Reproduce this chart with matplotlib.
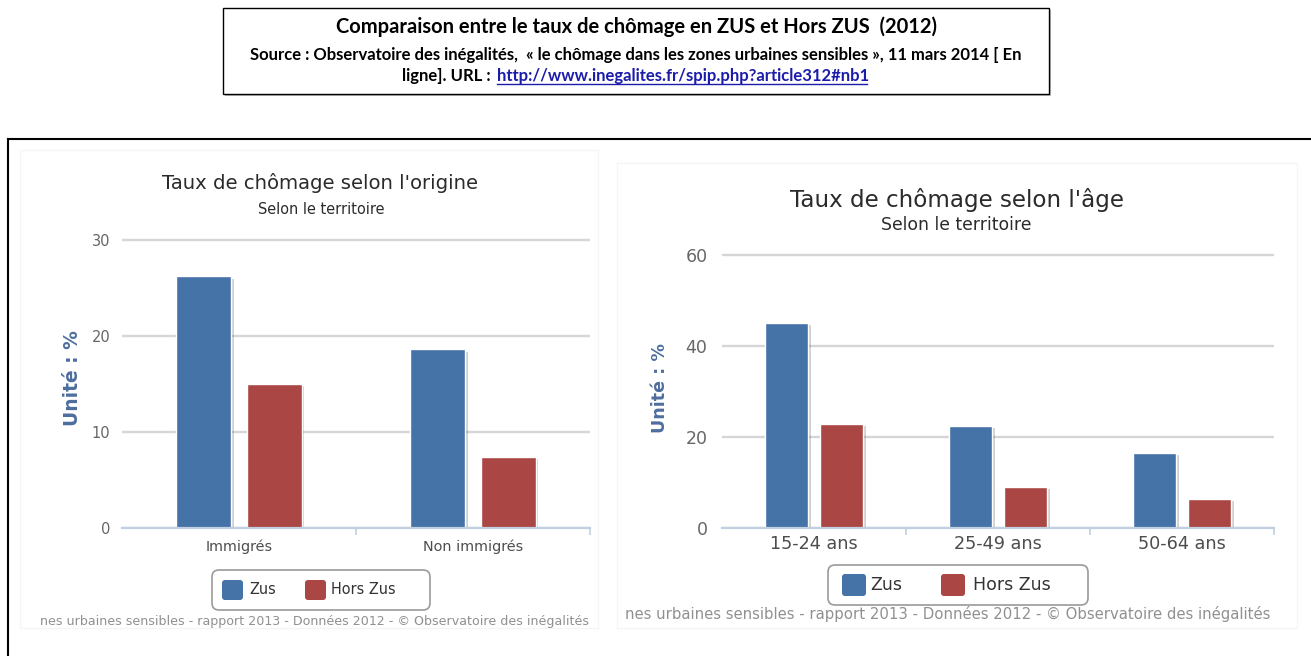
import matplotlib
matplotlib.use("Agg")
import matplotlib.pyplot as plt
import numpy as np
from matplotlib.patches import Rectangle, FancyBboxPatch
from matplotlib import patheffects as pe
from matplotlib.lines import Line2D

W, H = 1311, 656

# ---- data -------------------------------------------------------------
origin_categories = ["Immigrés", "Non immigrés"]
origin_zus = [26.2, 18.6]
origin_hors_zus = [15.0, 7.4]
origin_ticks = [0, 10, 20, 30]

age_categories = ["15-24 ans", "25-49 ans", "50-64 ans"]
age_zus = [45.1, 22.5, 16.5]
age_hors_zus = [22.8, 9.0, 6.3]
age_ticks = [0, 20, 40, 60]

series_names = ["Zus", "Hors Zus"]
series_colors = ["#4572A7", "#AA4643"]

main_title = "Comparaison entre le taux de chômage en ZUS et Hors ZUS  (2012)"
source_line = ("Source : Observatoire des inégalités,  « le chômage dans les zones "
               "urbaines sensibles », 11 mars 2014 [ En")
source_prefix = "ligne]. URL : "
source_url = "http://www.inegalites.fr/spip.php?article312#nb1"
credits = ("nes urbaines sensibles - rapport 2013 - Données 2012 - "
           "© Observatoire des inégalités")

# ---- figure and a pixel-space overlay for decorations ----------------
fig = plt.figure(figsize=(W / 100, H / 100), dpi=100)
fig.patch.set_facecolor("white")
deco = fig.add_axes([0, 0, 1, 1], zorder=0)
deco.set_xlim(0, W)
deco.set_ylim(H, 0)
deco.axis("off")
renderer = fig.canvas.get_renderer()


def fit_text(x, y, s, width, ha="center", rotation=0, size=10, **kw):
    """Place text and scale its font so it spans `width` pixels."""
    t = deco.text(x, y, s, ha=ha, va="center", rotation=rotation,
                  fontsize=size, **kw)
    for _ in range(3):
        bb = t.get_window_extent(renderer)
        cur = bb.height if rotation else bb.width
        t.set_fontsize(t.get_fontsize() * width / cur)
    return t


# ---- header box ------------------------------------------------------
deco.add_patch(Rectangle((225, 10), 826, 86, fill=True, fc="#bdbdbd",
                         ec="none"))
deco.add_patch(Rectangle((223, 8), 826, 86, fc="white", ec="black", lw=1.0))
head = dict(family=["Lato", "DejaVu Sans"], fontweight="bold", color="black")
fit_text(637, 27, main_title, 600, **head)
src = fit_text(636, 55, source_line, 776, **head)
src_size = src.get_fontsize()
deco.text(495, 76, source_prefix, ha="right", va="center", fontsize=src_size,
          **head)
deco.text(497, 76, source_url, ha="left", va="center", fontsize=src_size,
          family=["Lato", "DejaVu Sans"], fontweight="bold", color="#1c1caa")
deco.add_line(Line2D([497, 867], [84, 84], color="#1c1caa", lw=1.0))

# ---- outer frame -----------------------------------------------------
deco.add_line(Line2D([8, W], [139, 139], color="black", lw=1.5))
deco.add_line(Line2D([8, 8], [139, H], color="black", lw=1.5))

# faint panel outlines
deco.add_patch(Rectangle((20, 150), 578, 478, fill=False, ec="#f5f5f5", lw=1))
deco.add_patch(Rectangle((617, 163), 680, 465, fill=False, ec="#f5f5f5", lw=1))


def bar_chart(x0, x1, y_top, y_zero, cats, zus, hors, ticks,
              tick_fs, label_fs, ytick_pad, xtick_pad):
    """Grouped column chart whose top tick sits at y_top and zero at y_zero."""
    px_per_unit = (y_zero - y_top) / (ticks[-1] - ticks[0])
    extra = 3 / px_per_unit
    top_px = y_top - 3
    ax = fig.add_axes([x0 / W, 1 - y_zero / H, (x1 - x0) / W,
                       (y_zero - top_px) / H], zorder=1)
    ax.set_facecolor("none")
    n = len(cats)
    pos = np.arange(n)
    bw, off = 0.235, 0.15
    shadow = [pe.SimplePatchShadow(offset=(2, -1.5), shadow_rgbFace="black",
                                   alpha=0.18), pe.Normal()]
    for vals, d, c in ((zus, -off, series_colors[0]),
                       (hors, off, series_colors[1])):
        bars = ax.bar(pos + d, vals, bw, color=c, edgecolor="white",
                      linewidth=1.0, zorder=3)
        for b in bars:
            b.set_path_effects(shadow)
    ax.set_xlim(-0.5, n - 0.5)
    ax.set_ylim(ticks[0], ticks[-1] + extra)
    ax.set_yticks(ticks)
    ax.yaxis.grid(True, color="#d6d6d6", lw=1.7)
    ax.set_axisbelow(True)
    for s in ("top", "right", "left"):
        ax.spines[s].set_visible(False)
    ax.spines["bottom"].set_color("#C0D0E0")
    ax.spines["bottom"].set_linewidth(1.6)
    ax.spines["bottom"].set_zorder(4)
    ax.tick_params(axis="y", length=0, labelsize=tick_fs,
                   labelcolor="#666666", pad=ytick_pad)
    ax.set_xticks(pos)
    ax.set_xticklabels(cats)
    ax.set_xticks(np.arange(1, n + 1) - 0.5, minor=True)
    ax.tick_params(axis="x", which="major", length=0, labelsize=label_fs,
                   labelcolor="#4d4d4d", pad=xtick_pad)
    ax.tick_params(axis="x", which="minor", length=5, color="#C0D0E0",
                   width=1.2)
    return ax


def legend_box(box, swatches, sw_size, text_x, long_w, y_text):
    """Rounded legend frame with one swatch and label per series."""
    bx0, by0, bx1, by1 = box
    deco.add_patch(FancyBboxPatch((bx0, by0), bx1 - bx0, by1 - by0,
                                  boxstyle="round,pad=0,rounding_size=7",
                                  fc="white", ec="#9a9a9a", lw=1.2))
    sw_w, sw_h = sw_size
    for (sx, sy), c in zip(swatches, series_colors):
        deco.add_patch(FancyBboxPatch((sx, sy), sw_w, sw_h,
                                      boxstyle="round,pad=0,rounding_size=3",
                                      fc=c, ec="none"))
    # size the longest label, reuse that size for the other one
    longest = max(range(len(series_names)), key=lambda i: len(series_names[i]))
    ref = fit_text(text_x[longest], y_text, series_names[longest], long_w,
                   ha="left", color="#333333")
    for i, name in enumerate(series_names):
        if i != longest:
            deco.text(text_x[i], y_text, name, ha="left", va="center",
                      fontsize=ref.get_fontsize(), color="#333333")


# ---- left chart: by origin ------------------------------------------
bar_chart(122, 590, 240, 528, origin_categories, origin_zus, origin_hors_zus,
          origin_ticks, tick_fs=10.5, label_fs=10.4, ytick_pad=8.5,
          xtick_pad=8)
fit_text(320, 183, "Taux de chômage selon l'origine", 316, color="#2b2b2b")
fit_text(321, 209, "Selon le territoire", 127, color="#2b2b2b")
fit_text(72, 378, "Unité : %", 95, rotation=90, fontweight="bold",
         color="#4d6e9e")
legend_box((212, 570, 430, 610), [(222, 580), (305, 580)], (21, 20),
           [249, 331], 65, 590)
fit_text(314, 621, credits, 548, color="#909090")

# ---- right chart: by age ---------------------------------------------
bar_chart(722, 1274, 255, 528, age_categories, age_zus, age_hors_zus,
          age_ticks, tick_fs=12.5, label_fs=12.7, ytick_pad=10.5,
          xtick_pad=5)
fit_text(957, 200, "Taux de chômage selon l'âge", 334, color="#2b2b2b")
fit_text(956, 225, "Selon le territoire", 150, color="#2b2b2b")
fit_text(660, 388, "Unité : %", 90, rotation=90, fontweight="bold",
         color="#4d6e9e")
legend_box((828, 565, 1088, 605), [(842, 574), (941, 574)], (24, 22),
           [870, 973], 78, 585)
fit_text(948, 614, credits, 647, color="#909090")

fig.savefig("out.png", dpi=100, facecolor="white")
